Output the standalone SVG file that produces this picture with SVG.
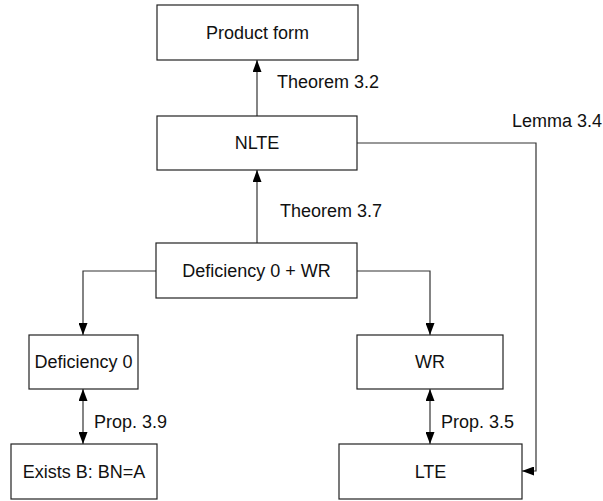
<svg xmlns="http://www.w3.org/2000/svg" width="603" height="501" viewBox="0 0 603 501">
<style>
.box{fill:#fff;stroke:#222;stroke-width:1.2}
.t{font-family:"Liberation Sans",Arial,sans-serif;font-size:18px;fill:#111}
.c{text-anchor:middle}
.ln{fill:none;stroke:#333;stroke-width:1.2}
</style>
<defs>
<marker id="ah" markerUnits="userSpaceOnUse" markerWidth="12" markerHeight="9" refX="12" refY="4.5" orient="auto-start-reverse">
<path d="M0,0 L12,4.5 L0,9 z" fill="#000"/>
</marker>
</defs>
<rect width="603" height="501" fill="#fff"/>
<g id="connectors">
<path class="ln" d="M257,116 V60" marker-end="url(#ah)"/>
<path class="ln" d="M257,243 V170" marker-end="url(#ah)"/>
<path class="ln" d="M156,271 H83 V335" marker-end="url(#ah)"/>
<path class="ln" d="M357,271 H430 V335" marker-end="url(#ah)"/>
<path class="ln" d="M83,389 V444" marker-start="url(#ah)" marker-end="url(#ah)"/>
<path class="ln" d="M430,389 V444" marker-start="url(#ah)" marker-end="url(#ah)"/>
<path class="ln" d="M357,143 H536 V471 H522" marker-end="url(#ah)"/>
<text class="t" x="277" y="88">Theorem 3.2</text>
<text class="t" x="280" y="217">Theorem 3.7</text>
<text class="t" x="512" y="127">Lemma 3.4</text>
<text class="t" x="94" y="428">Prop. 3.9</text>
<text class="t" x="441" y="428">Prop. 3.5</text>
</g>
<g id="product"><rect class="box" x="157" y="5" width="201" height="55"/><text class="t c" x="257.5" y="39">Product form</text></g>
<g id="nlte"><rect class="box" x="157" y="116" width="200" height="54"/><text class="t c" x="257" y="149">NLTE</text></g>
<g id="def0wr"><rect class="box" x="156" y="243" width="201" height="55"/><text class="t c" x="256.5" y="277">Deficiency 0 + WR</text></g>
<g id="def0"><rect class="box" x="29" y="335" width="109" height="54"/><text class="t c" x="83.5" y="368">Deficiency 0</text></g>
<g id="wr"><rect class="box" x="357" y="335" width="146" height="54"/><text class="t c" x="430" y="368">WR</text></g>
<g id="exists"><rect class="box" x="11" y="444" width="146" height="55"/><text class="t c" x="84" y="478">Exists B: BN=A</text></g>
<g id="lte"><rect class="box" x="339" y="444" width="183" height="55"/><text class="t c" x="430.5" y="478">LTE</text></g>
</svg>
